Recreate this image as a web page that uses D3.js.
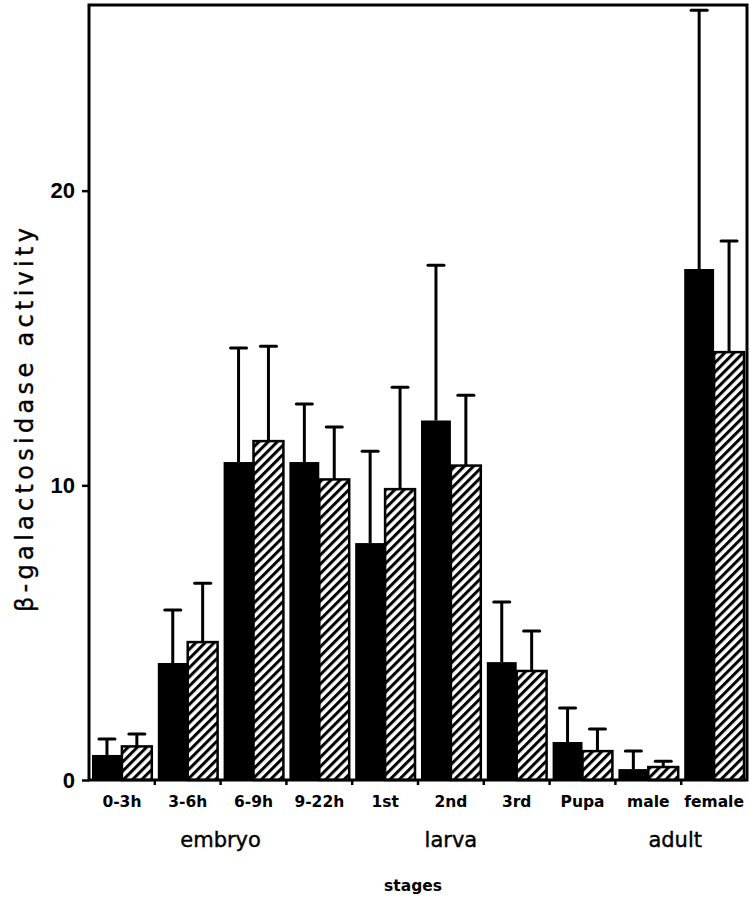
<!DOCTYPE html>
<html><head><meta charset="utf-8">
<script src="https://cdn.jsdelivr.net/npm/d3@7"></script>
<style>body{margin:0;background:#fff}</style>
</head><body>
<svg id="chart" width="750" height="900"></svg>
<script>
const categories = ["0-3h","3-6h","6-9h","9-22h","1st","2nd","3rd","Pupa","male","female"];
const groups = [{name:"embryo", from:"0-3h", to:"9-22h"},{name:"larva", from:"1st", to:"3rd"},{name:"adult", from:"male", to:"female"}];
const solidValues = [0.85, 3.97, 10.79, 10.79, 8.04, 12.2, 4.0, 1.29, 0.37, 17.34];
const solidErrors = [0.54, 1.8, 3.87, 1.97, 3.12, 5.27, 2.04, 1.15, 0.61, 8.78];
const hatchValues = [1.14, 4.68, 11.5, 10.2, 9.87, 10.67, 3.7, 0.98, 0.44, 14.52];
const hatchErrors = [0.42, 2.0, 3.22, 1.78, 3.46, 2.39, 1.36, 0.75, 0.2, 3.77];
const yTicks = [0, 10, 20];

(function(){
const svg = d3.select("#chart");
const mLeft = 89, mRight = 747, mTop = 5, mBottom = 780;
const x = d3.scaleBand().domain(categories).range([mLeft, mRight]).padding(0);
const y = d3.scaleLinear().domain([0, 26.3]).range([mBottom, mTop]);
const FONT = "Liberation Sans, Arial, sans-serif";
const WIDE = "DejaVu Sans, sans-serif";

const defs = svg.append("defs");
const pat = defs.append("pattern").attr("id","hatch").attr("patternUnits","userSpaceOnUse")
  .attr("width",6.5).attr("height",6.5).attr("patternTransform","rotate(45)");
pat.append("rect").attr("width",6.5).attr("height",6.5).attr("fill","#fff");
pat.append("line").attr("x1",1.5).attr("y1",0).attr("x2",1.5).attr("y2",6.5).attr("stroke","#000").attr("stroke-width",3);

const bw = x.bandwidth();
const inset = 3, barW = (bw - 2*inset)/2;

const data = categories.map((c,i)=>({c, s:solidValues[i], se:solidErrors[i], h:hatchValues[i], he:hatchErrors[i]}));

const err = svg.append("g").attr("stroke","#000").attr("stroke-width",3);
data.forEach(d=>{
  const cs = x(d.c)+inset+barW/2, ch = x(d.c)+inset+barW*1.5;
  [[cs,d.s,d.se],[ch,d.h,d.he]].forEach(([cx,v,e])=>{
    err.append("line").attr("x1",cx).attr("x2",cx).attr("y1",y(v)).attr("y2",y(v+e));
    err.append("line").attr("x1",cx-8).attr("x2",cx+8).attr("y1",y(v+e)).attr("y2",y(v+e)).attr("stroke-linecap","round");
  });
});

svg.append("g").selectAll("rect").data(data).join("rect")
  .attr("x",d=>x(d.c)+inset).attr("width",barW)
  .attr("y",d=>y(d.s)).attr("height",d=>y(0)-y(d.s)).attr("fill","#000");
svg.append("g").selectAll("rect").data(data).join("rect")
  .attr("x",d=>x(d.c)+inset+barW).attr("width",barW)
  .attr("y",d=>y(d.h)).attr("height",d=>y(0)-y(d.h))
  .attr("fill","url(#hatch)").attr("stroke","#000").attr("stroke-width",2.5);

svg.append("rect").attr("x",mLeft).attr("y",mTop).attr("width",mRight-mLeft).attr("height",mBottom-mTop)
  .attr("fill","none").attr("stroke","#000").attr("stroke-width",3);

const yAxis = d3.axisLeft(y).tickValues(yTicks).tickSize(7).tickPadding(7).tickFormat(d3.format("d"));
const ya = svg.append("g").attr("transform",`translate(${mLeft},0)`).call(yAxis);
ya.select(".domain").remove();
ya.selectAll(".tick line").attr("stroke","#000").attr("stroke-width",2.5);
ya.selectAll(".tick text").attr("font-family",FONT).attr("font-size",22)
  .attr("font-weight","bold").attr("fill","#000");

const xAxis = d3.axisBottom(x).tickSize(0).tickPadding(16);
const xa = svg.append("g").attr("transform",`translate(0,${mBottom})`).call(xAxis);
xa.select(".domain").remove();
xa.selectAll(".tick text").attr("font-family",WIDE).attr("font-size",15.5)
  .attr("font-weight","bold").attr("fill","#000");
svg.append("g").selectAll("line").data(categories.slice(1)).join("line")
  .attr("x1",d=>x(d)).attr("x2",d=>x(d)).attr("y1",mBottom).attr("y2",mBottom+5)
  .attr("stroke","#000").attr("stroke-width",2.5);

const groupX = {embryo: (x("0-3h")+x("9-22h")+bw)/2, larva: x("2nd")+bw/2, adult: x("female")-6};
svg.append("g").selectAll("text").data(groups).join("text")
  .attr("x",g=>groupX[g.name]).attr("y",847)
  .attr("text-anchor","middle").attr("font-family",WIDE)
  .attr("font-size",21).attr("stroke","#000").attr("stroke-width",0.4).text(g=>g.name);

svg.append("text").attr("x",413).attr("y",891).attr("text-anchor","middle")
  .attr("font-family",WIDE).attr("font-size",15.5).attr("font-weight","bold")
  .text("stages");

svg.append("text").attr("transform","translate(33,420) rotate(-90)").attr("text-anchor","middle")
  .attr("font-family",WIDE).attr("font-size",24)
  .attr("stroke","#000").attr("stroke-width",0.4)
  .attr("textLength",384).attr("lengthAdjust","spacing")
  .text("β-galactosidase activity");
})();
</script>
</body></html>
